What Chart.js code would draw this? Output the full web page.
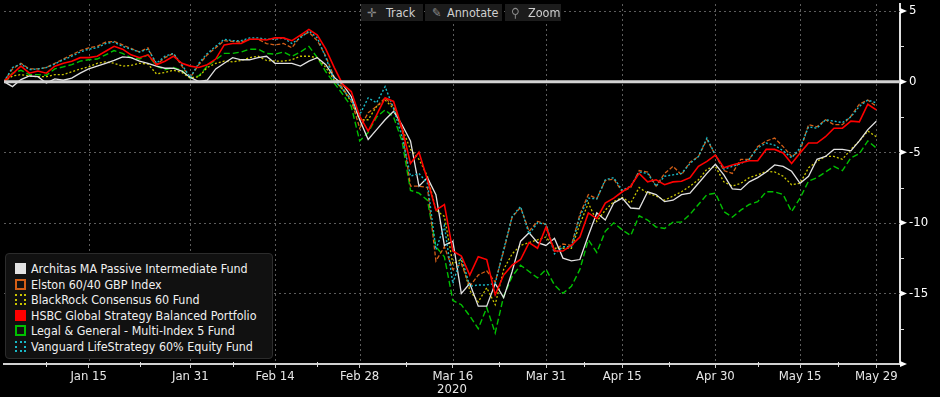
<!DOCTYPE html>
<html>
<head>
<meta charset="utf-8">
<script src="https://cdn.jsdelivr.net/npm/chart.js@4"></script>
<style>
html, body { margin: 0; padding: 0; background: #000; }
#wrap { position: relative; width: 940px; height: 397px; overflow: hidden; }
#chart { position: absolute; left: 0; top: 0; }
.btn { position: absolute; top: 4px; height: 17px; background: #1c1c1c; color: #cfcfcf;
       font: 12.5px "DejaVu Sans Condensed", "DejaVu Sans", sans-serif; line-height: 17px; }
.btn .ic { position: absolute; top: 0; color: #8a8a8a; }
.btn .tx { position: absolute; top: 0; }
#legend { position: absolute; left: 5px; top: 253px; width: 266px; height: 104px; background: #111;
          border: 1px solid #2c2c2c; border-radius: 4px; color: #f0f0f0;
          font: 12.4px "DejaVu Sans Condensed", "DejaVu Sans", sans-serif; }
.item { position: absolute; left: 9px; height: 15px; line-height: 15px; white-space: nowrap; }
.sw { position: absolute; left: 0; top: 2px; width: 11px; height: 11px; box-sizing: border-box; }
.lab { position: absolute; left: 16px; top: 0; }
</style>
</head>
<body>
<div id="wrap">
  <canvas id="chart" width="940" height="397"></canvas>
  <div class="btn" style="left:361px;width:62px"><span class="ic" style="left:6px">&#10011;</span><span class="tx" style="left:25px">Track</span></div>
  <div class="btn" style="left:425px;width:77px"><span class="ic" style="left:7px">&#9998;</span><span class="tx" style="left:22px">Annotate</span></div>
  <div class="btn" style="left:505px;width:56px"><span class="ic" style="left:6px">&#9906;</span><span class="tx" style="left:23px">Zoom</span></div>
  <div id="legend"></div>
</div>
<script>
// trading-day index (0 = 31 Dec 2019) of the labelled ticks
var tickIdx = [10, 22, 32, 42, 53, 64, 73, 84, 94, 103];
var tickLabels = ['Jan 15', 'Jan 31', 'Feb 14', 'Feb 28', 'Mar 16', 'Mar 31', 'Apr 15', 'Apr 30', 'May 15', 'May 29'];
var yearLabel = '2020';

// cumulative % returns, one value per trading day
var architas = [0, -0.35, 0.15, 0.4, 0.35, -0.1, 0.2, 0.1, 0.25, 0.6,
  0.9, 1.1, 1.3, 1.5, 1.75, 1.7, 1.45, 1.3, 1.1, 0.95,
  0.95, 0.75, 0.3, 0.0, 0.1, 0.9, 1.3, 1.7, 1.55, 1.55,
  1.7, 1.8, 1.3, 1.3, 1.3, 1.1, 1.45, 1.7, 1.2, 0.3,
  -0.2, -1.05, -2.7, -4.1, -3.4, -2.7, -2.1, -3.05, -4.2, -7.4,
  -6.8, -8.0, -11.6, -11.3, -15.0, -14.3, -15.9, -15.9, -14.3, -15.3,
  -13.45, -11.3, -10.7, -11.4, -11.6, -11.1, -12.5, -12.7, -12.6, -10.9,
  -9.3, -9.8, -8.6, -8.25, -8.95, -9.0, -7.8, -8.0, -8.5, -8.4,
  -8.0, -7.9, -7.2, -6.5, -5.85, -6.6, -7.6, -7.65, -7.1, -6.8,
  -6.4, -5.9, -6.0, -6.35, -7.2, -6.7, -5.5, -5.3, -4.8, -4.8,
  -4.9, -4.2, -3.4, -2.8];
var elston = [0, 0.9, 1.3, 0.9, 0.9, 1.0, 1.3, 1.6, 1.9, 2.2,
  2.4, 2.5, 2.8, 2.85, 2.6, 2.35, 2.1, 2.4, 1.2, 1.7,
  2.0, 1.1, 0.3, 1.2, 1.9, 2.4, 2.9, 2.85, 2.8, 3.0,
  3.0, 2.7, 2.6, 2.7, 2.4, 3.2, 3.5, 2.9, 1.8, 0.3,
  -0.45, -1.3, -3.3, -2.2, -1.75, -1.15, -1.75, -3.4, -7.4, -7.4,
  -7.5, -12.7, -11.7, -13.3, -12.9, -14.5, -13.7, -13.4, -14.2, -12.0,
  -9.6, -8.9, -10.6, -9.9, -10.1, -12.0, -11.5, -11.6, -9.4, -8.0,
  -8.3, -7.0, -6.9, -7.8, -7.5, -6.3, -6.4, -7.4, -6.5, -6.0,
  -6.6, -5.7, -5.3, -4.1, -5.2, -6.3, -6.5, -5.5, -5.5, -4.6,
  -4.2, -4.0, -4.6, -5.3, -4.9, -3.05, -3.2, -2.7, -3.05, -3.05,
  -2.45, -1.6, -1.3, -1.75];
var blackrock = [0, 0.4, 0.5, 0.4, 0.35, 0.35, 0.5, 0.5, 0.7, 0.9,
  1.05, 1.3, 1.4, 1.3, 1.1, 1.15, 1.3, 1.25, 0.55, 0.65,
  0.8, 0.65, 0.25, 0.35, 1.0, 1.3, 1.45, 1.4, 1.5, 1.7,
  1.8, 1.5, 1.45, 1.45, 1.55, 1.8, 1.8, 1.7, 1.0, 0.1,
  -0.55, -1.4, -2.7, -2.7, -1.75, -1.3, -1.9, -3.3, -4.8, -5.5,
  -6.7, -9.1, -9.55, -12.9, -12.6, -14.8, -15.6, -14.6, -15.8, -13.3,
  -12.2, -11.6, -11.4, -11.2, -11.0, -11.8, -11.8, -11.8, -10.1, -8.6,
  -9.9, -9.1, -8.5, -8.2, -8.6, -7.5, -7.9, -8.1, -8.4, -8.1,
  -7.8, -7.4, -6.95, -6.2, -6.0, -7.1, -7.4, -7.2, -6.8, -6.6,
  -6.35, -6.4, -6.7, -7.3, -7.2, -6.1, -5.65, -5.3, -5.3, -5.5,
  -4.8, -4.2, -3.5, -3.9];
var hsbc = [0, 0.55, 1.1, 0.6, 0.75, 0.6, 1.1, 1.3, 1.45, 1.7,
  1.7, 1.8, 2.15, 2.5, 2.3, 1.9, 1.7, 1.9, 1.2, 1.45,
  1.8, 1.3, 1.1, 1.0, 1.2, 1.6, 2.6, 2.7, 2.7, 3.0,
  3.0, 2.95, 3.1, 3.1, 2.9, 3.3, 3.7, 3.3, 2.3, 1.0,
  -0.2, -0.7, -2.45, -3.5, -2.35, -1.15, -1.4, -3.3, -5.8, -5.0,
  -6.95, -9.1, -8.7, -12.0, -12.35, -13.7, -12.4, -12.6, -15.1, -13.7,
  -13.0, -12.6, -11.4, -11.8, -10.3, -12.0, -12.0, -11.6, -11.0, -9.3,
  -9.7, -8.6, -8.25, -7.8, -7.4, -6.5, -7.1, -6.95, -7.3, -7.1,
  -7.05, -6.8, -6.0, -5.65, -5.2, -6.1, -5.9, -5.75, -5.6, -5.6,
  -4.8, -4.8, -5.05, -5.8, -5.05, -4.35, -4.35, -3.9, -3.3, -3.3,
  -2.8, -2.85, -1.6, -2.0];
var legalGeneral = [0, 0.6, 0.8, 0.5, 0.5, 0.45, 0.9, 1.05, 1.2, 1.45,
  1.55, 1.6, 1.9, 2.2, 2.0, 1.7, 1.6, 1.9, 1.1, 0.85,
  1.0, 0.8, 0.25, 0.4, 1.1, 1.55, 2.0, 2.0, 2.1, 2.3,
  2.3, 2.0, 1.95, 2.1, 1.8, 2.1, 2.5, 1.7, 0.7, -0.1,
  -0.9, -1.75, -4.2, -3.6, -2.5, -2.0, -2.5, -4.2, -7.7, -7.9,
  -8.4, -11.7, -12.4, -15.5, -15.8, -16.6, -17.5, -16.0, -17.8, -15.2,
  -13.8, -13.0, -13.45, -13.9, -13.3, -14.4, -15.0, -14.5, -13.3, -11.2,
  -12.1, -10.6, -10.0, -10.5, -10.9, -9.5, -9.8, -10.3, -10.4, -9.95,
  -9.95, -9.4, -8.7, -8.0, -7.9, -9.2, -9.6, -9.1, -8.7, -8.5,
  -7.8, -7.8, -8.0, -9.2, -8.25, -7.05, -6.8, -6.4, -6.0, -6.3,
  -5.4, -5.1, -4.2, -4.7];
var vanguard = [0, 1.0, 1.25, 0.85, 0.9, 1.0, 1.25, 1.55, 1.8, 2.1,
  2.3, 2.4, 2.7, 2.8, 2.5, 2.3, 2.1, 2.3, 1.3, 1.8,
  2.0, 1.2, 0.3, 1.3, 2.0, 2.5, 3.0, 2.9, 2.9, 3.1,
  3.1, 3.0, 3.0, 3.1, 2.7, 3.1, 3.6, 3.1, 1.7, 0.1,
  -0.55, -1.3, -2.35, -1.15, -1.5, -0.35, -1.9, -3.9, -6.7, -6.5,
  -7.2, -11.9, -10.2, -14.3, -12.4, -14.5, -14.4, -14.4, -14.3, -11.9,
  -9.55, -8.85, -10.8, -10.0, -10.1, -12.2, -11.7, -11.7, -9.55, -8.25,
  -8.3, -6.95, -6.8, -7.7, -7.4, -6.4, -6.5, -7.4, -6.7, -6.6,
  -6.5, -5.8, -5.3, -4.0, -5.2, -6.2, -6.0, -5.8, -5.5, -4.7,
  -4.35, -4.5, -4.9, -5.4, -4.7, -3.2, -3.3, -2.7, -2.8, -2.9,
  -2.5, -1.75, -1.3, -1.5];

var FONT = "'DejaVu Sans Condensed', 'DejaVu Sans', sans-serif";

// legend order as in the picture
var series = [
  { label: 'Architas MA Passive Intermediate Fund', data: architas, color: '#e2e2e2', dash: [], width: 1.3, swatch: 'fill' },
  { label: 'Elston 60/40 GBP Index', data: elston, color: '#d45f17', dash: [4, 2], width: 1.3, swatch: 'dashed' },
  { label: 'BlackRock Consensus 60 Fund', data: blackrock, color: '#c9c400', dash: [2, 2], width: 1.3, swatch: 'dotted' },
  { label: 'HSBC Global Strategy Balanced Portfolio', data: hsbc, color: '#ff0000', dash: [], width: 1.6, swatch: 'fill' },
  { label: 'Legal & General - Multi-Index 5 Fund', data: legalGeneral, color: '#00c000', dash: [6, 3], width: 1.4, swatch: 'dashed' },
  { label: 'Vanguard LifeStrategy 60% Equity Fund', data: vanguard, color: '#19b8c6', dash: [2, 2], width: 1.4, swatch: 'dotted' }
];

function toPoints(arr) {
  return arr.map(function (v, i) { return { x: i, y: v }; });
}

// draw order: first dataset ends up on top
var drawOrder = [3, 5, 0, 1, 2, 4];
var datasets = drawOrder.map(function (k) {
  var s = series[k];
  return {
    label: s.label,
    data: toPoints(s.data),
    borderColor: s.color,
    borderDash: s.dash,
    borderWidth: s.width,
    pointRadius: 0,
    fill: false,
    tension: 0
  };
});

// legend box
var legend = document.getElementById('legend');
series.forEach(function (s, i) {
  var item = document.createElement('div');
  item.className = 'item';
  item.style.top = (7 + i * 15.5) + 'px';
  var sw = document.createElement('span');
  sw.className = 'sw';
  if (s.swatch == 'fill') {
    sw.style.background = s.color;
  } else {
    sw.style.border = '2px ' + s.swatch + ' ' + s.color;
  }
  var lab = document.createElement('span');
  lab.className = 'lab';
  lab.textContent = s.label;
  item.appendChild(sw);
  item.appendChild(lab);
  legend.appendChild(item);
});

var bbgGrid = {
  id: 'bbgGrid',
  beforeDatasetsDraw: function (chart) {
    var ctx = chart.ctx, a = chart.chartArea;
    var xs = chart.scales.x, ys = chart.scales.y;
    ctx.save();
    ctx.strokeStyle = '#5c5c5c';
    ctx.lineWidth = 1;
    ctx.setLineDash([2, 3]);
    tickIdx.forEach(function (i) {
      var px = Math.round(xs.getPixelForValue(i)) + 0.5;
      ctx.beginPath(); ctx.moveTo(px, a.top); ctx.lineTo(px, a.bottom); ctx.stroke();
    });
    [5, -5, -10, -15].forEach(function (v) {
      var py = Math.round(ys.getPixelForValue(v)) + 0.5;
      ctx.beginPath(); ctx.moveTo(a.left, py); ctx.lineTo(a.right, py); ctx.stroke();
    });
    ctx.restore();
  },
  afterDatasetsDraw: function (chart) {
    var ctx = chart.ctx, a = chart.chartArea;
    var ys = chart.scales.y, xs = chart.scales.x;
    ctx.save();
    // zero line
    var p0 = ys.getPixelForValue(0);
    ctx.strokeStyle = '#d2d2d2';
    ctx.lineWidth = 3;
    ctx.beginPath(); ctx.moveTo(a.left, p0); ctx.lineTo(a.right, p0); ctx.stroke();
    // y axis markers
    ctx.fillStyle = '#ffffff';
    [5, 0, -5, -10, -15, -20].forEach(function (v) {
      var py = ys.getPixelForValue(v);
      ctx.beginPath();
      ctx.moveTo(a.right, py - 3);
      ctx.lineTo(a.right + 7, py);
      ctx.lineTo(a.right, py + 3);
      ctx.closePath();
      ctx.fill();
    });
    ctx.strokeStyle = '#dddddd';
    ctx.lineWidth = 1;
    [2.5, -2.5, -7.5, -12.5, -17.5].forEach(function (v) {
      var py = Math.round(ys.getPixelForValue(v)) + 0.5;
      ctx.beginPath(); ctx.moveTo(a.right, py); ctx.lineTo(a.right + 4, py); ctx.stroke();
    });
    // minor ticks on the date axis
    [5, 16, 27, 37, 47.5, 58.5, 68.5, 78.5, 89, 98.5].forEach(function (v) {
      var px = Math.round(xs.getPixelForValue(v)) + 0.5;
      ctx.beginPath(); ctx.moveTo(px, a.bottom - 2); ctx.lineTo(px, a.bottom + 3); ctx.stroke();
    });
    ctx.restore();
  }
};

var chart = new Chart(document.getElementById('chart'), {
  type: 'line',
  data: { datasets: datasets },
  options: {
    responsive: false,
    animation: false,
    layout: { padding: { left: 4, top: 4, right: 0, bottom: 0 } },
    plugins: { legend: { display: false }, tooltip: { enabled: false } },
    scales: {
      x: {
        type: 'linear',
        min: 0,
        max: 105.8,
        afterFit: function (s) { s.height = 33; s.paddingLeft = 0; s.paddingRight = 0; },
        afterBuildTicks: function (s) { s.ticks = tickIdx.map(function (v) { return { value: v }; }); },
        ticks: {
          color: '#e6e6e6',
          font: { family: FONT, size: 13 },
          padding: 1,
          maxRotation: 0,
          autoSkip: false,
          callback: function (v) { return tickLabels[tickIdx.indexOf(v)]; }
        },
        grid: { drawOnChartArea: false, color: '#cccccc', tickLength: 4 },
        border: { color: '#d0d0d0', width: 2 },
        title: { display: true, text: yearLabel, color: '#e6e6e6', font: { family: FONT, size: 13 }, padding: 0 }
      },
      y: {
        position: 'right',
        min: -20,
        max: 5.5,
        afterFit: function (s) { s.width = 40; s.paddingTop = 0; s.paddingBottom = 0; },
        afterBuildTicks: function (s) { s.ticks = [5, 0, -5, -10, -15].map(function (v) { return { value: v }; }); },
        ticks: { color: '#ffffff', font: { family: FONT, size: 13 }, padding: 9 },
        grid: { drawOnChartArea: false, drawTicks: false },
        border: { color: '#e0e0e0', width: 2 }
      }
    }
  },
  plugins: [bbgGrid]
});
</script>
</body>
</html>
